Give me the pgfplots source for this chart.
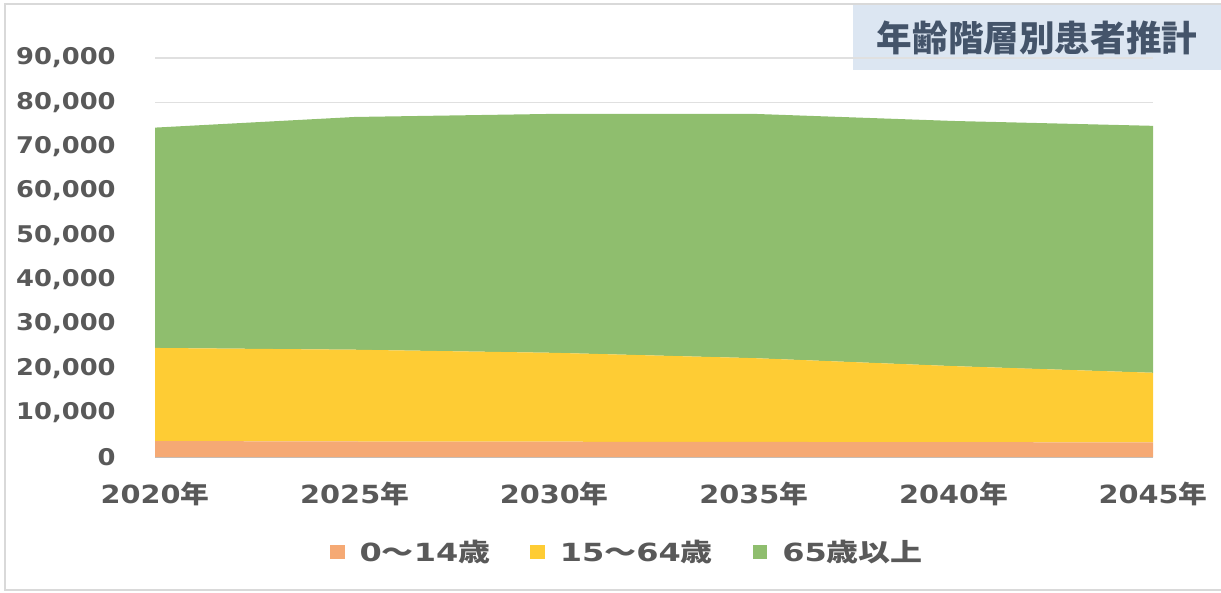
\documentclass[border=0pt]{standalone}
\usepackage{pgfplots}
\pgfplotsset{compat=1.18}
\usepackage{fontspec}
\setmainfont{DejaVu Sans}
\newfontfamily\cjk{Noto Sans CJK JP}

\definecolor{cOrange}{RGB}{245,169,116}
\definecolor{cYellow}{RGB}{254,204,52}
\definecolor{cGreen}{RGB}{143,190,110}
\definecolor{tickgray}{RGB}{89,89,89}
\definecolor{titlefill}{RGB}{220,230,242}
\definecolor{titletext}{RGB}{68,84,106}

\newcommand\xl[1]{\scalebox{1.15}[1]{#1{\cjk\bfseries 年}}}
\newcommand\yl[1]{\scalebox{1.12}[1]{#1}}
\newcommand\legtxt[1]{\scalebox{1.28}[1]{#1}}

\begin{document}
\begin{tikzpicture}
  % page frame and title box, in pixels from the top-left corner of the image
  \begin{scope}[shift={(-77.5bp,228.5bp)}, x=0.5bp, y=-0.5bp]
    \useasboundingbox (0,0) rectangle (1221,593);
    \draw[black!15, line width=1bp] (1230,4) -- (5,4) -- (5,590) -- (1230,590);
    \fill[titlefill] (853,5) rectangle (1221,70);
    \node[text=titletext, font=\cjk\bfseries\fontsize{17.8bp}{20bp}\selectfont] at (1037,38) {年齢階層別患者推計};
  \end{scope}

  \begin{axis}[
    at={(0,0)}, anchor=south west,
    scale only axis,
    width=499bp, height=199.5bp,
    xmin=2020, xmax=2045,
    ymin=0, ymax=90000,
    scaled y ticks=false,
    stack plots=y,
    axis lines*=left,
    x axis line style={draw=black!25, line width=0.8bp},
    y axis line style={draw=none},
    major tick length=0pt,
    xtick={2020,2025,2030,2035,2040,2045},
    xticklabels={\xl{2020},\xl{2025},\xl{2030},\xl{2035},\xl{2040},\xl{2045}},
    ytick={0,10000,20000,30000,40000,50000,60000,70000,80000,90000},
    yticklabels={\yl{0},\yl{10,000},\yl{20,000},\yl{30,000},\yl{40,000},\yl{50,000},\yl{60,000},\yl{70,000},\yl{80,000},\yl{90,000}},
    yticklabel style={font=\bfseries\fontsize{11.5bp}{13bp}\selectfont, text=tickgray, anchor=east, inner sep=0pt, xshift=-19.5bp},
    xticklabel style={font=\bfseries\fontsize{12.5bp}{14bp}\selectfont, text=tickgray, anchor=north, inner sep=0pt, yshift=-12.5bp},
    ymajorgrids,
    grid style={draw=black!12, line width=0.8bp},
    legend style={at={(0.4725,-0.238)}, anchor=center, draw=none, fill=none,
      legend columns=3, font=\bfseries\fontsize{12.5bp}{14bp}\selectfont, text=tickgray,
      nodes={inner sep=0pt},
      /tikz/every odd column/.append style={column sep=7.5bp},
      /tikz/every even column/.append style={column sep=20bp}},
    legend image code/.code={\fill[#1] (0bp,-3.6bp) rectangle (7.2bp,3.6bp);},
  ]
    \addplot[fill=cOrange, draw=none] coordinates {
      (2020,3600) (2025,3500) (2030,3450) (2035,3400) (2040,3350) (2045,3300)
    } \closedcycle;
    \addlegendentry{\legtxt{0{\cjk\bfseries 〜}14{\cjk\bfseries 歳}}}
    \addplot[fill=cYellow, draw=none] coordinates {
      (2020,21000) (2025,20700) (2030,20050) (2035,18900) (2040,17150) (2045,15700)
    } \closedcycle;
    \addlegendentry{\legtxt{15{\cjk\bfseries 〜}64{\cjk\bfseries 歳}}}
    \addplot[fill=cGreen, draw=none] coordinates {
      (2020,49700) (2025,52500) (2030,53900) (2035,55100) (2040,55300) (2045,55700)
    } \closedcycle;
    \addlegendentry{\legtxt{65{\cjk\bfseries 歳以上}}}
  \end{axis}
\end{tikzpicture}
\end{document}
